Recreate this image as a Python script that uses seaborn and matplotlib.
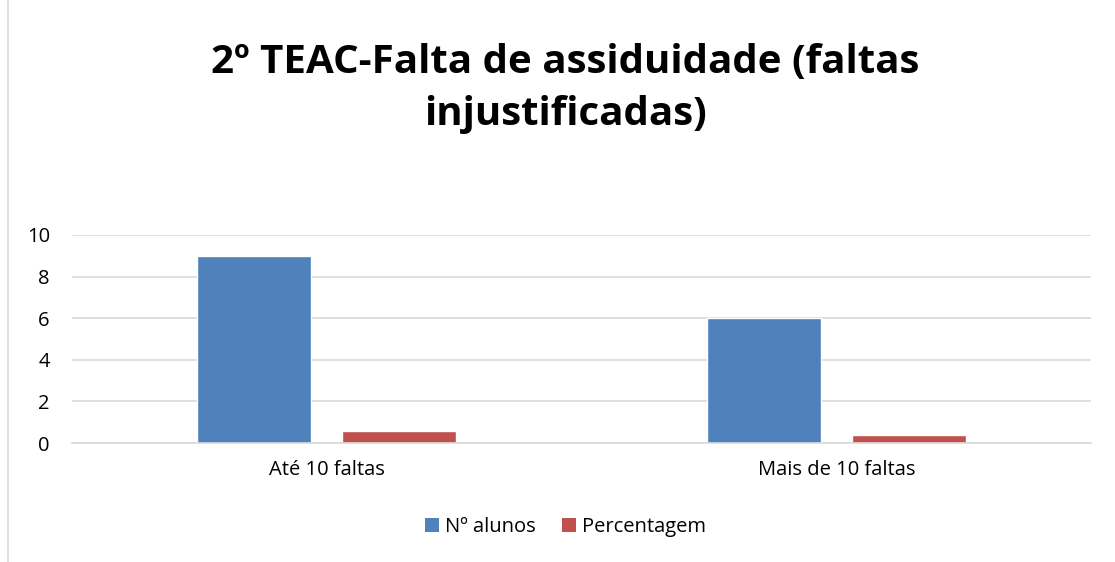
import matplotlib
matplotlib.use("Agg")
import matplotlib.pyplot as plt
import seaborn as sns
import pandas as pd
from matplotlib.lines import Line2D
from matplotlib.patches import Patch

categories = ["Até 10 faltas", "Mais de 10 faltas"]
series_names = ["Nº alunos", "Percentagem"]
n_alunos = [9, 6]
percentagem = [0.56, 0.38]
yticks = [0, 2, 4, 6, 8, 10]
title = "2º TEAC-Falta de assiduidade (faltas\ninjustificadas)"
colors = ["#4F81BD", "#C0504D"]

df = pd.DataFrame({
    "cat": categories * 2,
    "serie": [series_names[0]] * 2 + [series_names[1]] * 2,
    "valor": n_alunos + percentagem,
})

sns.set_theme(style="white")
plt.rcParams["font.family"] = ["Open Sans", "DejaVu Sans"]
plt.rcParams["text.color"] = "black"

fig = plt.figure(figsize=(11.15, 5.62), dpi=100)
ax = fig.add_axes([0.0646, 0.2117, 0.9139, 0.3702])

sns.barplot(data=df, x="cat", y="valor", hue="serie", palette=colors,
            width=0.57, gap=0.214, ax=ax, legend=False, saturation=1)

ax.set_xlim(-0.5, 1.5)
ax.set_ylim(0, 10)
ax.set_yticks(yticks)
ax.yaxis.grid(True, color="#d9d9d9", linewidth=1.2)
ax.set_axisbelow(True)
for s in ["top", "right", "left"]:
    ax.spines[s].set_visible(False)
ax.spines["bottom"].set_color("#d9d9d9")
ax.spines["bottom"].set_linewidth(1.2)
ax.tick_params(axis="both", length=0, labelsize=14.5, colors="black")
ax.tick_params(axis="x", pad=12)
ax.tick_params(axis="y", pad=16)
ax.set_xlabel("")
ax.set_ylabel("")

fig.text(0.507, 0.843, title, ha="center", va="center", fontsize=29,
         fontweight="bold", linespacing=1.42, color="black")

handles = [Patch(facecolor=c, edgecolor="none") for c in colors]
fig.legend(handles, series_names, loc="center", bbox_to_anchor=(0.507, 0.062),
           ncol=2, frameon=False, fontsize=14.5, handlelength=0.7, handleheight=0.7,
           columnspacing=1.3, handletextpad=0.3)

fig.add_artist(Line2D([0.0075, 0.0075], [0, 1], transform=fig.transFigure,
                      color="#d9d9d9", linewidth=1.2))

fig.savefig("out.png", dpi=100)
